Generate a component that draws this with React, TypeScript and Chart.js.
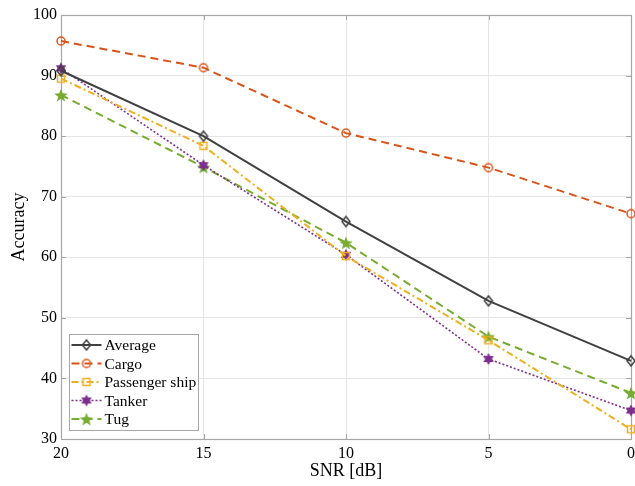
import React, { useEffect, useRef } from "react";
import { Chart, registerables } from "chart.js";

Chart.register(...registerables);

const categories = ["20", "15", "10", "5", "0"];
const averageValues = [90.8, 80.0, 65.9, 52.8, 42.9];
const cargoValues = [95.7, 91.3, 80.5, 74.8, 67.2];
const passengerValues = [89.5, 78.4, 60.2, 46.3, 31.6];
const tankerValues = [91.2, 75.2, 60.4, 43.2, 34.7];
const tugValues = [86.8, 74.9, 62.4, 46.9, 37.6];
const seriesNames = ["Average", "Cargo", "Passenger ship", "Tanker", "Tug"];

const FONT = "'Liberation Serif', 'Times New Roman', serif";
const C_AVG = "#404040";
const C_CARGO = "#D95319";
const C_PASS = "#EDB120";
const C_TANK = "#7E2F8E";
const C_TUG = "#77AC30";

function makeMarker(kind: string, color: string): HTMLCanvasElement {
  const s = 16;
  const c = document.createElement("canvas");
  c.width = s;
  c.height = s;
  const ctx = c.getContext("2d")!;
  const m = s / 2;
  ctx.strokeStyle = color;
  ctx.fillStyle = color;
  ctx.lineWidth = 1.5;
  ctx.beginPath();
  if (kind === "diamond") {
    const r = 5;
    ctx.moveTo(m, m - r);
    ctx.lineTo(m + r * 0.8, m);
    ctx.lineTo(m, m + r);
    ctx.lineTo(m - r * 0.8, m);
    ctx.closePath();
    ctx.stroke();
  } else if (kind === "circle") {
    ctx.arc(m, m, 4, 0, Math.PI * 2);
    ctx.stroke();
  } else if (kind === "square") {
    ctx.rect(m - 3.5, m - 3.5, 7, 7);
    ctx.stroke();
  } else if (kind === "hexagram") {
    const R = 6, r = 3.4;
    for (let i = 0; i < 12; i++) {
      const a = -Math.PI / 2 + (i * Math.PI) / 6;
      const rad = i % 2 === 0 ? R : r;
      const x = m + rad * Math.cos(a), y = m + rad * Math.sin(a);
      if (i === 0) ctx.moveTo(x, y); else ctx.lineTo(x, y);
    }
    ctx.closePath();
    ctx.fill();
  } else if (kind === "pentagram") {
    const R = 7, r = 3;
    for (let i = 0; i < 10; i++) {
      const a = -Math.PI / 2 + (i * Math.PI) / 5;
      const rad = i % 2 === 0 ? R : r;
      const x = m + rad * Math.cos(a), y = m + 0.8 + rad * Math.sin(a);
      if (i === 0) ctx.moveTo(x, y); else ctx.lineTo(x, y);
    }
    ctx.closePath();
    ctx.fill();
  }
  return c;
}

export default function App() {
  const ref = useRef<HTMLCanvasElement>(null);
  useEffect(() => {
    const markers = [
      makeMarker("diamond", C_AVG),
      makeMarker("circle", C_CARGO),
      makeMarker("square", C_PASS),
      makeMarker("hexagram", C_TANK),
      makeMarker("pentagram", C_TUG),
    ];
    const colors = [C_AVG, C_CARGO, C_PASS, C_TANK, C_TUG];
    const dashes = [[], [8, 5], [7, 3, 2, 3], [2, 2], [8, 5]];
    const widths = [2, 2, 2, 1.6, 2];
    const values = [averageValues, cargoValues, passengerValues, tankerValues, tugValues];

    const frame = {
      id: "frame",
      beforeDatasetsDraw(chart: any) {
        const { ctx, chartArea: a } = chart;
        ctx.save();
        ctx.strokeStyle = "#a6a6a6";
        ctx.lineWidth = 1;
        const xs = chart.scales.x;
        const ys = chart.scales.y;
        ctx.beginPath();
        for (let i = 0; i < categories.length; i++) {
          const x = Math.round(xs.getPixelForValue(i)) + 0.5;
          ctx.moveTo(x, a.bottom);
          ctx.lineTo(x, a.bottom - 5);
          ctx.moveTo(x, a.top);
          ctx.lineTo(x, a.top + 5);
        }
        for (let v = 30; v <= 100; v += 10) {
          const y = Math.round(ys.getPixelForValue(v)) + 0.5;
          ctx.moveTo(a.left, y);
          ctx.lineTo(a.left + 5, y);
          ctx.moveTo(a.right, y);
          ctx.lineTo(a.right - 5, y);
        }
        ctx.stroke();
        ctx.lineWidth = 1.2;
        ctx.strokeRect(Math.round(a.left) + 0.5, Math.round(a.top) + 0.5, Math.round(a.right - a.left), Math.round(a.bottom - a.top));
        ctx.restore();
      },
    };

    const legend = {
      id: "customLegend",
      afterDatasetsDraw(chart: any) {
        const { ctx, chartArea: a } = chart;
        const left = a.left + 8.5;
        const top = 334.5;
        const w = 129;
        const h = 96;
        ctx.save();
        ctx.fillStyle = "#ffffff";
        ctx.fillRect(left, top, w, h);
        ctx.strokeStyle = "#a6a6a6";
        ctx.lineWidth = 1;
        ctx.strokeRect(left, top, w, h);
        ctx.font = `15.5px ${FONT}`;
        ctx.textBaseline = "middle";
        ctx.textAlign = "left";
        const rows = [345, 363.5, 382, 400.5, 419];
        for (let i = 0; i < 5; i++) {
          const y = rows[i];
          ctx.strokeStyle = colors[i];
          ctx.lineWidth = widths[i];
          ctx.setLineDash(dashes[i]);
          ctx.beginPath();
          ctx.moveTo(left + 2, y);
          ctx.lineTo(left + 32, y);
          ctx.stroke();
          ctx.setLineDash([]);
          ctx.drawImage(markers[i], left + 17 - 8, y - 8);
          ctx.fillStyle = "#000";
          ctx.fillText(seriesNames[i], left + 35, y + 1);
        }
        ctx.restore();
      },
    };

    const chart = new Chart(ref.current!, {
      type: "line",
      data: {
        labels: categories,
        datasets: values.map((vals, i) => ({
          label: seriesNames[i],
          data: vals,
          borderColor: colors[i],
          backgroundColor: colors[i],
          borderWidth: widths[i],
          borderDash: dashes[i],
          pointStyle: markers[i] as any,
          pointRadius: 6,
          fill: false,
          tension: 0,
        })),
      },
      options: {
        responsive: false,
        animation: false,
        layout: { padding: { top: 15, right: 0, left: 0, bottom: 0 } },
        plugins: { legend: { display: false }, tooltip: { enabled: false } },
        scales: {
          x: {
            offset: false,
            grid: { color: "#e6e6e6", drawTicks: false },
            border: { display: false },
            ticks: { color: "#000", font: { family: FONT, size: 16 }, padding: 5, maxRotation: 0 },
            title: { display: true, text: "SNR [dB]", color: "#000", font: { family: FONT, size: 18 }, padding: { top: 0, bottom: 4 } },
            afterFit(s: any) { s.height = 47; },
          },
          y: {
            min: 30,
            max: 100,
            grid: { color: "#e6e6e6", drawTicks: false },
            border: { display: false },
            ticks: { stepSize: 10, color: "#000", font: { family: FONT, size: 16 }, padding: 4 },
            title: { display: true, text: "Accuracy", color: "#000", font: { family: FONT, size: 18 }, padding: { top: 8, bottom: 0 } },
            afterFit(s: any) { s.width = 61; },
          },
        },
      },
      plugins: [frame, legend],
    });
    return () => chart.destroy();
  }, []);
  return (
    <div style={{ position: "fixed", left: 0, top: 0, width: 635, height: 486, background: "#fff", overflow: "hidden" }}>
      <canvas ref={ref} width={640} height={486} style={{ display: "block", width: 640, height: 486 }} />
    </div>
  );
}
